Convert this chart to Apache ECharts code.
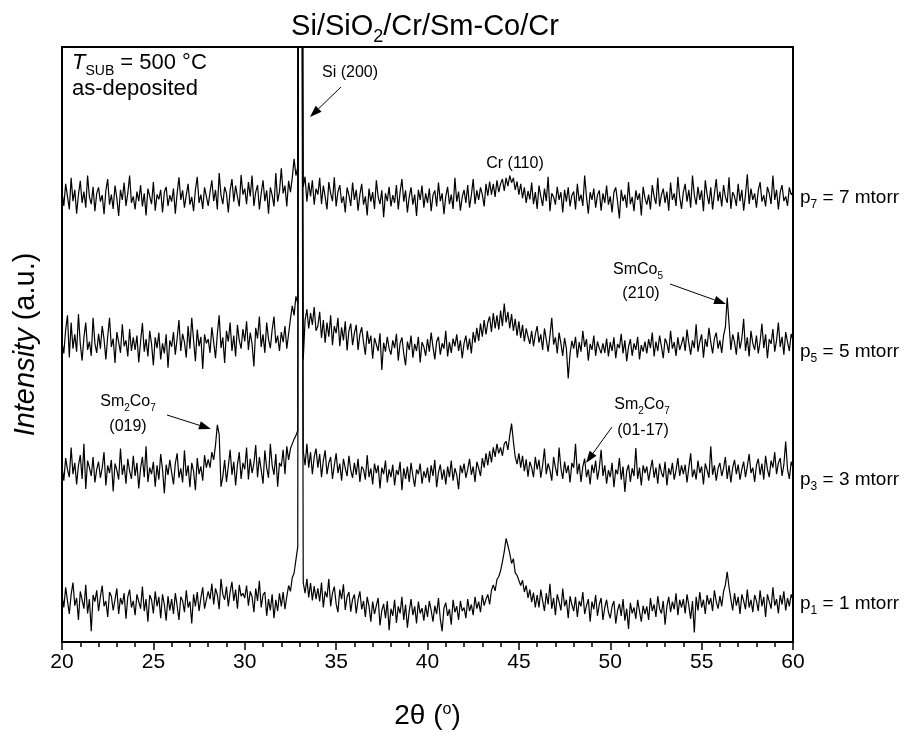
<!DOCTYPE html>
<html><head><meta charset="utf-8">
<script src="https://cdn.jsdelivr.net/npm/echarts@6/dist/echarts.min.js"></script>
<style>html,body{margin:0;padding:0;background:#fff}#c{width:906px;height:740px}</style>
</head><body><div id="c"></div>
<script>
// 2θ scan grid (degrees)
const thetaStart = 20, thetaStep = 0.1;
const xTickLabels = [20, 25, 30, 35, 40, 45, 50, 55, 60];
const traceNames = ['p1 = 1 mtorr', 'p3 = 3 mtorr', 'p5 = 5 mtorr', 'p7 = 7 mtorr'];
// vertical shift of each pattern in the stacked plot (a.u.)
const traceOffsets = [6.6, 28.7, 49.9, 74.6];

// intensities (a.u., relative to each pattern's own background), 20.0..60.0 step 0.1
const p1 = [
1.3,-0.8,2.6,0.3,-1.9,1.4,3.4,-0.5,0.8,-2.9,1.9,0.5,-1.0,3.0,-1.8,0.6,-4.8,1.3,0.2,2.1,
-1.4,1.0,2.9,-0.6,0.3,-2.4,1.8,1.1,-1.3,0.5,2.4,-1.9,0.8,-0.3,1.6,-2.7,1.0,2.2,-0.8,0.3,
-2.1,1.4,0.2,-1.0,2.7,-1.4,0.6,-3.2,1.3,0.5,-1.8,1.9,-0.6,1.0,-2.6,1.4,-0.3,-3.0,1.1,-1.3,
0.6,-1.9,1.6,-0.5,-2.9,1.0,0.3,-1.6,2.1,-0.8,0.2,-3.5,1.4,-0.6,1.8,-1.4,0.8,2.6,-1.0,0.5,
1.9,0.6,3.2,-0.3,2.4,1.3,-1.1,4.0,1.4,0.5,2.7,-0.6,1.8,3.5,0.3,2.2,-1.0,3.0,1.1,1.6,
0.8,2.9,-0.5,1.9,1.0,-1.6,2.4,0.3,3.7,-0.8,1.3,1.8,-2.2,0.6,-1.3,1.4,-2.6,0.5,-1.4,1.6,
-0.6,1.8,-1.1,1.0,2.9,1.9,4.2,5.0,7.2,9.4,300,300,3.4,1.6,4.0,0.9,3.3,0.4,2.8,0.6,
2.4,0.2,3.4,-0.8,1.9,0.9,4.0,-0.6,1.6,2.7,-0.2,-1.6,2.2,0.6,3.1,-1.2,1.0,1.8,-1.5,0.6,
1.4,-1.8,0.5,1.9,-1.1,0.3,-2.4,1.0,-0.6,-3.2,0.2,-1.9,-0.5,0.8,-3.8,-1.3,-0.2,-2.6,0.3,-4.6,
-1.0,-2.2,0.5,-3.4,-0.6,-1.8,1.0,-2.9,-0.3,-4.2,-1.4,0.6,-2.1,-0.6,-3.5,0.2,-1.8,-0.9,-3.0,-0.4,
-2.4,0.3,-1.3,-3.2,-0.5,-1.9,0.8,-2.7,-4.8,-0.9,0.0,-2.2,-1.1,-3.7,0.5,-1.6,-0.6,-2.9,0.3,-1.4,
-0.8,-2.6,0.6,-1.4,-0.3,-2.1,1.0,-1.0,0.2,-1.6,1.3,-0.5,0.6,1.4,-0.3,2.1,3.0,2.0,3.9,4.4,
5.4,6.9,8.6,10.8,9.6,8.3,6.6,7.4,5.0,4.6,4.8,2.9,3.8,1.8,2.9,0.8,2.2,0.1,1.7,-0.8,
1.3,-0.8,2.2,0.3,-1.4,1.6,-0.3,3.2,-1.0,0.8,-2.1,1.4,0.2,-1.3,2.4,-0.6,0.5,-2.6,1.1,-0.3,
-1.4,1.0,-2.4,0.3,-0.6,1.8,-1.9,-0.5,0.6,-3.2,0.2,-1.1,1.3,-2.2,-0.3,0.8,-2.9,-0.8,0.5,-1.6,
-2.6,-0.6,0.3,-3.5,-1.3,-0.2,-2.2,0.6,-3.0,-1.0,-4.4,0.0,-1.8,-0.8,-2.7,0.5,-1.4,-3.2,-0.5,-1.9,
-0.6,-2.9,0.8,-1.4,-0.3,-2.4,1.1,-1.0,-1.8,0.3,-3.7,-0.6,1.0,-1.6,0.2,-1.1,1.6,-2.1,0.5,-0.8,
0.6,-1.8,1.4,-0.5,-2.7,0.3,-5.0,1.0,-1.3,1.8,-0.8,0.5,-1.9,1.3,-0.3,0.8,-1.4,2.1,0.2,-1.0,
1.1,-0.6,1.9,3.0,5.2,2.6,0.6,-1.3,1.6,-0.5,1.0,-1.9,1.4,0.3,-1.1,2.2,-0.8,0.5,-1.6,1.3,
0.3,-1.4,2.1,-0.6,1.0,-2.4,1.4,0.2,-1.0,2.6,-0.5,0.6,-1.8,1.3,-0.3,1.9,-1.3,0.8,-0.6,1.4,
0.5];

const p3 = [
0.8,-1.6,2.2,0.3,-1.0,4.0,-0.5,1.4,-2.2,1.0,2.7,-1.3,4.6,-3.0,1.8,0.6,-0.8,2.4,-1.9,0.3,
1.6,-1.1,0.6,3.2,-2.4,1.0,-0.3,1.9,-3.4,1.3,0.2,-1.4,3.8,-0.6,1.1,-2.1,2.1,0.0,-1.3,2.6,
-0.8,1.4,-2.9,0.5,2.4,-1.0,4.2,-1.8,0.6,-0.5,1.6,-2.6,1.0,-1.4,2.9,0.3,-3.7,1.1,-0.6,1.9,
-0.2,-2.2,1.3,3.0,-1.1,0.5,-1.9,3.5,-0.8,1.0,-2.7,1.4,0.0,-3.2,2.2,-0.5,0.8,-1.6,2.7,0.6,
2.0,0.6,3.2,1.9,4.4,7.8,6.2,-2.6,-0.9,1.9,-1.8,0.8,3.6,-0.6,1.6,-2.4,1.1,3.2,-1.3,1.4,
0.3,4.0,-1.4,2.1,-0.3,1.3,4.4,-1.0,2.4,0.2,-2.1,3.5,0.6,-1.1,4.6,1.0,-0.6,2.9,-2.6,1.4,
0.8,3.6,-0.5,4.2,1.9,3.8,4.6,5.4,6.0,6.8,300,300,3.4,1.0,4.6,0.6,3.2,-0.5,2.4,3.8,
0.6,2.9,-1.0,1.8,3.5,-0.5,1.4,2.4,-1.3,1.0,3.0,-0.3,1.3,-1.6,2.1,0.5,-0.8,2.6,0.2,-1.1,
1.4,-0.6,2.1,-1.8,0.8,0.3,-1.4,2.7,-1.0,0.5,-2.2,1.3,-0.3,1.0,-2.9,0.6,-0.5,1.8,-1.9,0.3,
-1.0,1.1,-2.4,0.2,-0.6,1.6,-3.2,0.5,-1.3,0.8,-1.8,1.4,-0.8,-2.6,0.3,-0.5,1.3,-2.1,0.0,-1.1,
0.6,-1.9,1.0,-0.8,1.9,-2.7,-0.2,1.1,-1.4,0.3,-2.2,0.8,-1.0,1.8,-1.6,0.5,-0.6,-3.0,1.0,-0.3,
1.3,-1.1,0.3,2.1,-0.6,0.8,-1.8,1.6,0.5,-0.8,2.2,0.6,3.0,1.0,3.4,1.5,4.0,2.4,4.6,3.0,
4.0,2.6,4.6,5.0,3.6,6.0,8.0,5.0,2.4,1.2,3.0,0.6,2.6,0.0,2.0,-0.9,1.6,0.6,-1.0,2.4,
0.3,1.9,-1.1,1.0,3.8,-0.5,1.3,0.2,-1.6,2.4,0.6,-0.8,4.0,0.5,-1.3,1.6,-0.3,1.0,-1.9,1.4,
0.6,4.6,-0.5,1.3,-1.8,0.8,2.1,-1.0,0.3,-2.2,1.1,-0.3,1.8,-1.4,0.5,3.6,-0.8,1.0,-2.1,0.2,
-1.0,1.4,-2.7,0.3,-0.5,2.2,-1.4,0.8,-3.5,0.0,1.1,-1.8,0.5,-0.8,3.9,-1.3,0.6,-2.4,1.0,-0.3,
0.8,-1.6,0.3,1.9,-1.1,0.6,-2.1,1.3,-0.2,-1.0,1.6,-2.4,0.5,-0.6,1.4,-1.4,0.2,2.2,-0.8,1.0,
-0.5,1.1,-1.9,0.6,3.0,-1.0,0.3,-1.4,1.8,-0.3,0.8,-2.2,1.3,0.2,-1.1,4.2,-0.6,1.0,-1.6,0.5,
1.4,-0.8,0.5,2.4,-1.3,1.0,-1.9,0.6,1.9,-0.5,1.1,-1.4,0.3,1.6,-1.0,0.8,2.9,-0.3,0.6,-1.8,
1.0,2.1,-0.6,1.3,-1.4,2.6,0.3,-1.0,1.8,0.6,3.2,-0.5,1.4,2.2,-0.8,1.1,5.0,0.3,-1.3,1.6,
0.6];

const p5 = [
0.5,-1.4,2.6,5.0,-2.1,3.8,-0.6,1.8,-1.1,5.2,0.2,-2.6,1.3,3.8,-0.8,0.6,-1.8,4.6,0.3,-1.3,
1.9,-0.6,3.2,1.0,-2.4,1.4,4.6,-0.3,1.1,-3.0,2.2,0.5,-1.3,3.5,-0.2,0.8,-1.9,2.7,-1.0,1.3,
-0.8,1.6,-2.9,0.6,3.7,-1.1,1.0,-1.9,2.4,0.2,-3.4,1.3,-0.5,2.1,-2.4,0.3,-1.4,1.8,-3.8,0.8,
-0.3,2.2,-1.6,1.1,4.2,-1.0,1.9,0.5,-2.1,3.2,-0.6,4.6,0.8,-2.7,2.6,-0.2,1.4,-4.0,1.8,0.3,
1.0,-1.3,3.0,0.5,-2.2,1.9,5.0,-0.5,1.3,-3.0,2.4,0.6,3.8,-1.0,1.6,-1.9,3.4,0.8,-0.6,2.7,
0.6,4.0,-0.8,2.1,0.2,-3.6,2.9,1.1,4.8,-0.3,1.8,-1.3,3.8,1.0,-0.5,2.6,4.8,0.3,1.6,-1.0,
2.2,0.5,3.2,-0.6,1.9,4.4,6.6,5.0,8.2,7.0,300,300,-2.4,4.2,6.0,2.8,5.4,3.4,6.4,2.4,
3.2,5.6,1.2,4.2,0.4,3.8,1.4,5.0,0.0,3.2,2.0,4.6,-0.2,3.0,0.8,4.0,-0.9,2.4,3.6,0.0,
2.0,3.4,-0.8,1.8,3.0,0.4,-1.6,2.4,0.2,1.6,-2.3,1.2,0.1,-1.0,2.0,-4.2,0.4,-1.1,1.4,-0.6,
-1.6,0.8,-0.5,1.9,-2.6,0.3,1.3,-1.4,-3.4,0.6,-0.8,1.6,-2.1,0.2,-1.0,1.4,-2.9,0.5,-0.3,-1.8,
1.0,-1.1,2.1,-0.3,-2.4,0.6,1.4,-1.6,0.3,-0.6,2.4,-1.9,0.5,-1.3,1.1,-0.2,1.8,-1.0,0.8,-2.2,
0.3,1.6,-0.8,1.1,-1.4,2.2,0.4,2.9,0.7,3.6,1.4,4.2,1.8,3.8,4.8,2.2,5.4,2.8,5.0,2.6,
5.8,3.2,7.0,3.8,5.6,2.8,5.2,2.4,4.4,1.6,4.0,1.2,3.4,0.6,2.8,1.4,0.2,2.4,-0.2,1.8,
3.2,0.4,1.8,-0.8,2.8,0.9,-1.1,1.6,4.6,0.1,1.3,-1.4,2.1,0.3,-1.8,1.2,-0.6,-5.6,-1.5,0.7,
-0.6,1.4,-2.1,0.5,-1.1,2.4,-0.3,1.0,-2.6,0.2,-0.8,1.6,-1.8,0.6,-0.5,-1.4,0.3,-1.3,1.1,-1.9,
0.5,-1.0,1.3,-2.2,0.2,-0.5,1.9,-1.4,0.8,-2.7,-0.3,1.0,-1.8,0.3,-0.8,1.4,-2.4,0.0,-1.1,0.6,
-1.4,1.0,-0.5,2.1,-1.9,0.6,-1.0,1.6,-0.2,-2.2,1.1,0.3,-1.3,2.4,-0.6,0.5,-1.8,1.3,-0.8,0.2,
1.4,-1.0,2.6,0.3,-1.6,0.8,-0.5,3.5,-1.1,0.6,1.8,-2.1,1.0,-0.3,2.9,0.5,-1.4,1.1,2.1,-0.6,
0.8,-1.3,1.6,3.0,8.0,3.6,-0.8,1.8,0.5,-1.6,2.2,-0.6,1.1,4.4,-1.0,1.3,-1.9,2.4,0.3,-0.8,
1.6,-1.4,0.6,3.6,-0.5,1.8,-2.2,1.0,0.2,2.7,-1.1,0.8,3.8,-0.3,1.4,-1.6,2.2,0.5,-1.0,1.9,
0.8];

const p7 = [
1.0,-1.3,2.4,0.3,-1.9,3.4,-0.5,1.4,-2.6,0.6,2.9,-0.8,1.1,-1.6,3.8,0.2,-1.0,1.9,-2.2,0.8,
1.8,-0.6,0.5,-2.7,1.3,3.2,-1.1,0.6,-1.8,2.1,0.0,-3.0,1.4,-0.3,2.6,-1.3,0.8,3.8,-0.8,0.3,
-1.9,1.1,-0.5,2.2,-1.4,0.8,-2.9,1.6,0.3,-1.0,2.7,-2.1,0.6,-0.2,1.4,-2.4,1.0,1.9,-1.3,0.5,
-0.6,1.6,-2.6,0.8,3.5,-0.3,1.3,-1.6,0.5,2.4,-1.1,0.2,-2.2,1.4,3.6,-0.8,0.6,-1.8,1.8,0.3,
-1.3,1.0,3.0,-0.5,1.4,-1.9,4.2,0.5,-1.0,1.9,0.8,-2.4,1.3,3.2,-0.6,2.1,0.2,-1.4,3.9,0.6,
1.6,-1.0,2.7,0.3,3.8,-1.3,1.0,2.2,-1.9,0.8,3.0,-0.5,1.3,-2.6,1.8,0.5,-1.4,4.2,-0.6,1.1,
5.0,0.8,2.1,-1.4,2.9,1.0,3.4,6.6,3.8,5.2,300,300,1.9,3.6,-0.6,2.6,0.3,3.0,-1.1,1.6,
0.6,3.4,-1.0,2.1,0.2,-1.9,2.7,0.8,-0.5,3.5,-1.4,1.1,2.2,-0.8,0.3,-2.4,1.8,0.5,-1.3,2.6,
-0.3,1.4,-2.1,0.6,2.4,-1.1,0.3,-2.9,1.6,-0.6,1.0,-1.8,3.0,0.2,-1.0,1.3,-3.2,0.8,-0.5,1.9,
-1.4,0.5,-0.8,2.2,-1.9,1.0,3.2,-0.6,1.3,-2.4,0.2,1.8,-1.1,0.6,-3.0,1.4,-0.3,2.1,-1.6,0.8,
-0.8,1.6,-2.2,0.5,1.3,-1.4,2.6,-0.5,0.8,-2.7,0.3,1.9,-1.0,0.6,-1.8,3.4,-0.6,1.1,-2.1,0.2,
1.4,-0.8,2.2,-1.6,0.5,3.2,-1.0,1.3,-0.3,1.8,0.6,-1.4,2.4,0.4,2.8,0.6,2.4,0.2,3.0,1.0,
2.4,3.2,1.2,3.4,2.0,3.8,2.6,3.4,1.4,2.8,0.6,2.4,0.0,1.8,-0.8,1.2,-0.2,2.6,-1.0,1.0,
-1.8,2.1,0.3,-1.3,1.6,-0.5,3.6,-2.2,0.8,0.2,-1.1,1.9,-0.3,1.0,-2.4,1.4,-0.6,1.8,-1.4,0.5,
1.1,-1.9,2.4,-0.5,0.6,-1.3,3.8,0.2,-2.6,1.0,-0.3,1.6,-1.6,0.5,1.3,-2.1,0.8,-0.8,2.1,-1.1,
0.3,-2.4,1.0,1.8,-0.6,-3.4,1.4,-0.5,0.6,-1.6,2.7,-1.0,0.2,-2.2,1.3,-0.3,0.8,-2.9,1.9,0.0,
-1.1,0.6,-1.9,2.2,0.3,-1.0,3.4,-1.4,0.5,1.6,-0.8,1.1,-2.1,2.6,-0.3,0.8,-1.3,3.6,0.2,-1.8,
1.0,2.4,-0.6,1.4,-1.6,3.8,0.5,-1.1,1.9,-0.3,1.3,-2.2,3.0,0.6,-1.0,1.8,-1.9,0.8,3.2,-0.5,
1.1,-1.4,2.2,0.2,-0.8,3.5,-1.8,1.0,0.3,-1.3,2.4,-0.5,1.4,-2.1,0.6,4.0,-1.0,1.6,-0.3,0.8,
-1.6,1.3,2.7,-0.6,0.5,-1.4,1.9,0.8,-1.0,3.8,-0.3,1.4,-1.9,1.0,2.2,-0.5,0.3,-1.3,1.8,0.6,
1.0];

const traces = [p1, p3, p5, p7];
const FF = 'Liberation Sans, Arial, sans-serif';

function toPairs(arr, off) {
  return arr.map((v, i) => [Math.round((thetaStart + i * thetaStep) * 10) / 10, v + off]);
}

function txt(x, y, text, size, opts) {
  opts = opts || {};
  const sub = Math.round(size * 0.62);
  return {
    type: 'text', x: x, y: y, z: 10, silent: true,
    style: {
      text: text, fill: '#000', fontSize: size, fontFamily: FF,
      align: opts.align || 'left', textAlign: opts.align || 'left',
      verticalAlign: 'middle', textVerticalAlign: 'middle',
      lineHeight: Math.round(size * 1.35),
      rich: {
        sub: { fontSize: sub, fontFamily: FF, fill: '#000', verticalAlign: 'bottom', lineHeight: sub },
        it: { fontSize: size, fontFamily: FF, fill: '#000', fontStyle: 'italic', lineHeight: Math.round(size * 1.35) }
      }
    }
  };
}

function arrow(x1, y1, x2, y2) {
  const dx = x2 - x1, dy = y2 - y1, L = Math.hypot(dx, dy), ux = dx / L, uy = dy / L;
  const hl = 12, hw = 4.2;
  const bx = x2 - ux * hl, by = y2 - uy * hl;
  return [
    { type: 'line', z: 10, silent: true, shape: { x1: x1, y1: y1, x2: bx, y2: by }, style: { stroke: '#000', lineWidth: 1 } },
    { type: 'polygon', z: 10, silent: true, shape: { points: [[x2, y2], [bx - uy * hw, by + ux * hw], [bx + uy * hw, by - ux * hw]] }, style: { fill: '#000' } }
  ];
}

const chart = echarts.init(document.getElementById('c'), null, { renderer: 'canvas' });

const graphics = [
  txt(425, 27, 'Si/SiO{sub|2}/Cr/Sm-Co/Cr', 29, { align: 'center' }),
  txt(72, 63, '{it|T}{sub|SUB} = 500 °C', 22),
  txt(72, 89, 'as-deposited', 22),
  txt(350, 73, 'Si (200)', 16, { align: 'center' }),
  txt(515, 164, 'Cr (110)', 16, { align: 'center' }),
  txt(638, 270, 'SmCo{sub|5}', 16, { align: 'center' }),
  txt(641, 294, '(210)', 16, { align: 'center' }),
  txt(128, 402, 'Sm{sub|2}Co{sub|7}', 16, { align: 'center' }),
  txt(128, 427, '(019)', 16, { align: 'center' }),
  txt(642, 405, 'Sm{sub|2}Co{sub|7}', 16, { align: 'center' }),
  txt(643, 431, '(01-17)', 16, { align: 'center' }),
  txt(800, 198, 'p{sub|7} = 7 mtorr', 19),
  txt(800, 352, 'p{sub|5} = 5 mtorr', 19),
  txt(800, 480, 'p{sub|3} = 3 mtorr', 19),
  txt(800, 604, 'p{sub|1} = 1 mtorr', 19)
].concat(
  arrow(341, 87, 310, 117),
  arrow(670, 284, 726, 304),
  arrow(167, 415, 211, 429),
  arrow(612, 427, 586, 463)
);

chart.setOption({
  animation: false,
  backgroundColor: '#fff',
  grid: { left: 62, right: 113, top: 47, bottom: 98, show: true, borderColor: '#000', borderWidth: 2, backgroundColor: 'transparent' },
  xAxis: {
    type: 'value', min: xTickLabels[0], max: xTickLabels[xTickLabels.length - 1], interval: 5,
    axisLine: { show: true, onZero: false, lineStyle: { color: '#000', width: 2 } },
    axisTick: { show: true, inside: false, length: 8, lineStyle: { color: '#000', width: 1.5 } },
    minorTick: { show: true, splitNumber: 5, length: 5, lineStyle: { color: '#000', width: 1.5 } },
    axisLabel: { fontSize: 21, color: '#000', fontFamily: FF, margin: 10 },
    splitLine: { show: false },
    name: '2θ ({sup|o})', nameLocation: 'middle', nameGap: 60,
    nameTextStyle: { fontSize: 28, color: '#000', fontFamily: FF,
      rich: { sup: { fontSize: 16, fontFamily: FF, color: '#000', verticalAlign: 'top', lineHeight: 16 } } }
  },
  yAxis: {
    type: 'value', min: 0, max: 100,
    axisLine: { show: false }, axisTick: { show: false }, axisLabel: { show: false }, splitLine: { show: false },
    name: '{it|Intensity} (a.u.)', nameLocation: 'middle', nameGap: 22,
    nameTextStyle: { fontSize: 29, color: '#000', fontFamily: FF,
      rich: { it: { fontStyle: 'italic', fontSize: 29, fontFamily: FF, color: '#000' } } }
  },
  series: traces.map((arr, k) => ({
    name: traceNames[k], type: 'line', data: toPairs(arr, traceOffsets[k]),
    showSymbol: false, symbol: 'none', clip: true, silent: true,
    lineStyle: { color: '#000', width: 1.2 }
  })),
  graphic: graphics
});
</script>
</body></html>
